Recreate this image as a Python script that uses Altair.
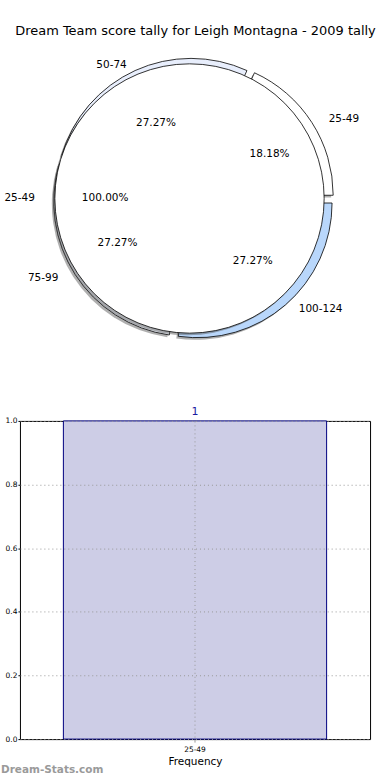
import math
import altair as alt
import pandas as pd

# ---------------- data ----------------
title_text = "Dream Team score tally for Leigh Montagna - 2009 tally"
tally_labels = ["25-49", "50-74", "75-99", "100-124"]
tally_counts = [2, 3, 3, 3]
inner_labels = ["25-49"]
inner_counts = [1]
freq_labels = ["25-49"]
freq_values = [1]
y_ticks = [0.0, 0.2, 0.4, 0.6, 0.8, 1.0]
watermark = "Dream-Stats.com"

# ---------------- styles / layout ----------------
slice_colors = ["#ffffff", "#e8eefc", "#eef2fa", "#b9d7fb"]
FONT = "DejaVu Sans"
LEFT = 19                # y-axis extent of the bar panel (pie panel is shifted by it)
CX, CY = 189 - LEFT, 198 # pie centre (pixels in the pie panel)
R = 135                  # wedge radius
RX, RY = 141, 128        # label radii (text placement)
EXPLODE_OUT = 6
SHIFT_OUT = 4
SHADOW_DX, SHADOW_DY = -2.0, 2.2


def pie_frame(labels, counts, explode, shift):
    total = float(sum(counts))
    rows = []
    start = 0.0
    for lab, c in zip(labels, counts):
        frac = c / total
        a1 = start * 2 * math.pi
        a2 = (start + frac) * 2 * math.pi
        mid = (a1 + a2) / 2
        ox = CX + shift + explode * math.cos(mid)
        oy = CY - explode * math.sin(mid)
        rows.append(dict(
            label=lab,
            theta=2.5 * math.pi - a2,
            theta2=2.5 * math.pi - a1,
            cx=ox, cy=oy,
            sx=ox + SHADOW_DX, sy=oy + SHADOW_DY,
            lx=ox + 1.1 * RX * math.cos(mid),
            ly=oy - 1.1 * RY * math.sin(mid),
            side="left" if math.cos(mid) > 0 else "right",
            px=ox + 0.6 * RX * math.cos(mid),
            py=oy - 0.6 * RY * math.sin(mid),
            pct=f"{frac * 100:.2f}%",
        ))
        start += frac
    return pd.DataFrame(rows)


outer = pie_frame(tally_labels, tally_counts, EXPLODE_OUT, SHIFT_OUT)
inner = pie_frame(inner_labels, inner_counts, 0, 0)


def wedges(df, shadow=False, colored=True):
    xf, yf = ("sx", "sy") if shadow else ("cx", "cy")
    base = alt.Chart(df)
    if shadow:
        m = base.mark_arc(radius=R, fill="#4d4d4d", opacity=0.45)
    else:
        m = base.mark_arc(radius=R, stroke="black", strokeWidth=0.8)
    enc = dict(
        x=alt.X(f"{xf}:Q", scale=None, axis=None),
        y=alt.Y(f"{yf}:Q", scale=None, axis=None),
        theta=alt.Theta("theta:Q", scale=None, stack=None),
        theta2=alt.Theta2("theta2:Q"),
    )
    if not shadow:
        if colored:
            enc["fill"] = alt.Fill("label:N", scale=alt.Scale(domain=tally_labels, range=slice_colors), legend=None)
        else:
            enc["fill"] = alt.value("#ffffff")
    return m.encode(**enc)


def labels_layer(df):
    layers = []
    for side in ["left", "right"]:
        layers.append(
            alt.Chart(df).transform_filter(alt.datum.side == side)
            .mark_text(align=side, baseline="middle", fontSize=10.5, font=FONT, color="black")
            .encode(x=alt.X("lx:Q", scale=None, axis=None), y=alt.Y("ly:Q", scale=None, axis=None), text="label:N")
        )
    layers.append(
        alt.Chart(df).mark_text(align="center", baseline="middle", fontSize=10.5, font=FONT, color="black")
        .encode(x=alt.X("px:Q", scale=None, axis=None), y=alt.Y("py:Q", scale=None, axis=None), text="pct:N")
    )
    return layers


title_layer = alt.Chart(pd.DataFrame({"t": [title_text]})).mark_text(
    fontSize=13, font=FONT, color="black", baseline="middle"
).encode(x=alt.value(195 - LEFT), y=alt.value(30), text="t:N")

pie = alt.layer(
    wedges(outer, shadow=True),
    wedges(outer),
    wedges(inner, shadow=True),
    wedges(inner, colored=False),
    *labels_layer(outer),
    *labels_layer(inner),
    title_layer,
).properties(width=390 - LEFT, height=421, view=alt.ViewBackground(stroke=None))

# ---------------- bar chart ----------------
bar_df = pd.DataFrame({"range": freq_labels, "freq": freq_values})

xenc = alt.X(
    "range:N",
    scale=alt.Scale(paddingInner=0, paddingOuter=0.165),
    axis=alt.Axis(
        title="Frequency", labelFontSize=7.5, titleFontSize=10.5, titleFontWeight="normal",
        labelAngle=0, grid=True, gridDash=[1, 3], gridColor="#999999", gridOpacity=1,
        tickSize=3, tickColor="#999999", bandPosition=0.5, domain=False, zindex=1,
        labelPadding=3, titlePadding=4, labelFont=FONT, titleFont=FONT, labelColor="black",
        titleColor="black",
    ),
)
yenc = alt.Y(
    "freq:Q",
    scale=alt.Scale(domain=[0, 1], nice=False),
    axis=alt.Axis(
        values=y_ticks, format=".1f", labelFontSize=7.5, title=None, grid=True,
        gridDash=[1, 3], gridColor="#999999", gridOpacity=1, tickSize=2, tickColor="black",
        domain=False, zindex=1, minExtent=LEFT, maxExtent=LEFT, labelPadding=1,
        labelFont=FONT, labelColor="black",
    ),
)

bars = alt.Chart(bar_df).mark_bar(fill="#cdcde6", stroke="#000080", strokeWidth=1).encode(x=xenc, y=yenc)
bar_text = alt.Chart(bar_df).mark_text(dy=-9, fill="#1a1aa0", fontSize=11, font=FONT).encode(
    x="range:N", y="freq:Q", text="freq:Q"
)
wm = alt.Chart(pd.DataFrame({"t": [watermark]})).mark_text(
    align="left", baseline="middle", fontSize=10.5, fontWeight="bold", font=FONT, color="#9a9a9a"
).encode(x=alt.value(-LEFT), y=alt.value(350), text="t:N")

bar = alt.layer(bars, bar_text, wm).properties(
    width=390 - LEFT - 20, height=319, view=alt.ViewBackground(stroke="black", strokeWidth=1)
)

chart = alt.vconcat(pie, bar, spacing=0, bounds="flush").properties(padding=0).configure_view(stroke=None)

chart.save("out.html", embed_options={"renderer": "svg", "actions": False})
